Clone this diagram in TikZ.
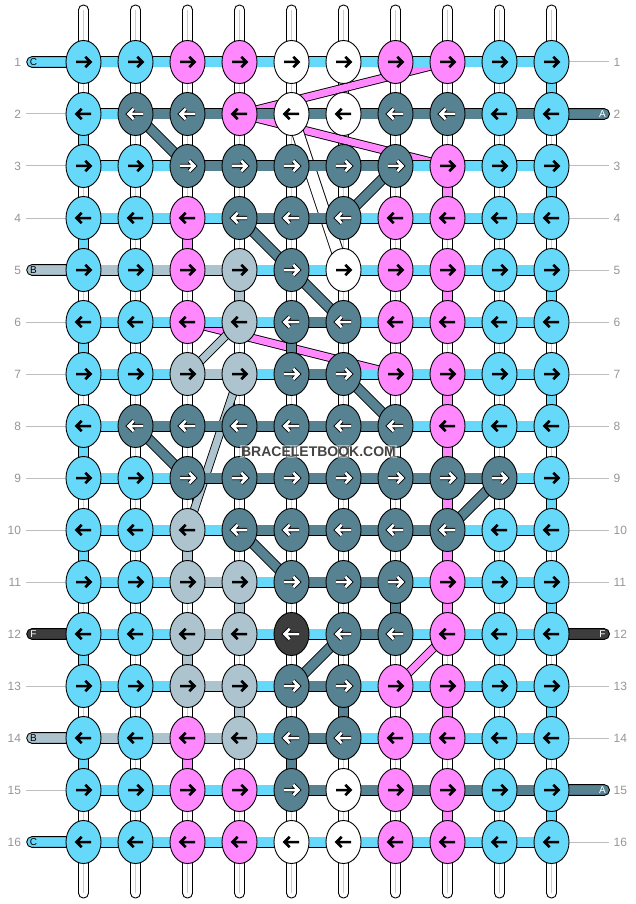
\documentclass[tikz,border=0pt]{standalone}
\usepackage{fontspec}
\setmainfont{Liberation Sans}
\usetikzlibrary{shapes.geometric}
\definecolor{kC}{RGB}{102,217,250}
\definecolor{kP}{RGB}{255,136,255}
\definecolor{kT}{RGB}{86,130,146}
\definecolor{kL}{RGB}{173,196,206}
\definecolor{kW}{RGB}{255,255,255}
\definecolor{kD}{RGB}{61,61,61}
\definecolor{lblgray}{RGB}{150,150,150}
\definecolor{linegray}{RGB}{190,190,190}
\definecolor{wmtext}{RGB}{68,68,68}
\tikzset{
  knot/.style={draw=black, line width=0.9pt, ellipse, minimum width=35pt, minimum height=43pt, inner sep=0pt},
  aoC/.style={draw=none}, aoP/.style={draw=none}, aoW/.style={draw=none}, aoL/.style={draw=none},
  aoT/.style={draw=black}, aoD/.style={draw=black},
  aiC/.style={draw=black}, aiP/.style={draw=black}, aiW/.style={draw=black}, aiL/.style={draw=black},
  aiT/.style={draw=white}, aiD/.style={draw=white},
  numlbl/.style={font=\fontsize{12}{14}\selectfont, text=lblgray, inner sep=0pt},
  leadlbl/.style={font=\fontsize{10}{12}\selectfont, inner sep=0pt},
  arr/.style={line cap=butt, line join=miter}
}
\begin{document}
\begin{tikzpicture}[x=1pt,y=-1pt]
\useasboundingbox (0,0) rectangle (636,904);
\fill[white] (0,0) rectangle (636,904);
% grid coordinates
\foreach \r in {1,...,16}{
  \foreach \c in {1,...,10}{
    \coordinate (k-\r-\c) at ({83.5+52*(\c-1)},{62+52*(\r-1)});
  }
}
% label lines
\foreach \r in {2,3,4,6,7,8,9,10,11,13,15}{
  \coordinate (ll\r) at (26,{62+52*(\r-1)});
  \draw[linegray, line width=1pt] (ll\r) -- (k-\r-1);
}
\foreach \r in {1,3,4,5,6,7,8,9,10,11,13,14,16}{
  \coordinate (rl\r) at (609,{62+52*(\r-1)});
  \draw[linegray, line width=1pt] (k-\r-10) -- (rl\r);
}
% vertical white strands
\foreach \c in {1,...,10}{
  \pgfmathsetmacro\xx{83.5+52*(\c-1)}
  \draw[fill=white, line width=0.9pt, rounded corners=4.8pt] ({\xx-5},5) rectangle ({\xx+5},898);
  \draw[gray!40, line width=1.8pt] (\xx,10) -- (\xx,893);
}
% diagonal strands
\foreach \a/\b/\col/\w in {2-2/3-3/kT/9, 3-7/4-6/kT/9, 4-4/5-5/kT/9, 5-5/6-6/kT/9, 7-6/8-7/kT/9,
  8-2/9-3/kT/9, 9-9/10-8/kT/9, 10-4/11-5/kT/9, 12-6/13-5/kT/9,
  2-4/1-8/kP/7, 2-4/3-8/kP/7, 6-3/7-7/kP/7, 12-8/13-7/kP/7,
  6-4/7-3/kL/7, 7-4/10-3/kL/7, 2-5/5-6/white/11}{
  \pgfmathsetmacro\wo{\w+1.8}
  \draw[line width=\wo pt] (k-\a) -- (k-\b);
  \draw[line width=\w pt, \col] (k-\a) -- (k-\b);
}
% coloured vertical segments
\foreach \r/\c/\col in {2/1/kC,4/1/kC,6/1/kC,8/1/kC,10/1/kC,12/1/kC,14/1/kC,
  1/10/kC,3/10/kC,5/10/kC,7/10/kC,9/10/kC,11/10/kC,13/10/kC,15/10/kC,
  4/3/kP,14/3/kP,10/3/kL,12/3/kL, 5/4/kL,11/4/kL,13/4/kL, 6/5/kT,14/5/kT, 13/6/kT, 11/7/kT,
  3/8/kP,5/8/kP,7/8/kP,8/8/kP,9/8/kP,10/8/kP,11/8/kP,13/8/kP,15/8/kP}{
  \pgfmathtruncatemacro\rn{\r+1}
  \draw[line width=10.6pt] (k-\r-\c) -- (k-\rn-\c);
  \draw[line width=8.8pt, \col] (k-\r-\c) -- (k-\rn-\c);
}
% horizontal segments
\foreach \r/\row in {1/{C,C,C,C,C,C,C,C,C}, 2/{C,T,T,T,T,T,T,T,T}, 3/{C,C,T,T,T,T,C,C,C},
  4/{C,C,C,T,T,C,C,C,C}, 5/{L,L,L,C,C,C,C,C,C}, 6/{C,C,C,C,T,C,C,C,C},
  7/{C,C,L,C,T,C,C,C,C}, 8/{C,T,T,T,T,T,C,C,C}, 9/{C,C,T,T,T,T,T,T,C},
  10/{C,C,C,T,T,T,T,C,C}, 11/{C,C,L,C,T,T,C,C,C}, 12/{C,C,L,C,C,T,C,C,C},
  13/{C,C,L,C,T,C,C,C,C}, 14/{L,L,L,C,T,C,C,C,C}, 15/{C,C,C,C,T,T,T,T,T},
  16/{C,C,C,C,C,C,C,C,C}}{
  \foreach \k [count=\c] in \row {
    \pgfmathtruncatemacro\cn{\c+1}
    \draw[line width=11pt] (k-\r-\c) -- (k-\r-\cn);
    \draw[line width=9.2pt, k\k] (k-\r-\c) -- (k-\r-\cn);
  }
}
% lead strands
\foreach \r/\col/\txt/\tc in {1/kC/C/black, 5/kL/B/black, 12/kD/F/white, 14/kL/B/black, 16/kC/C/black}{
  \pgfmathsetmacro\yy{62+52*(\r-1)}
  \draw[fill=\col, line width=0.9pt, rounded corners=5.3pt] (26.7,{\yy-5.4}) rectangle (80,{\yy+5.4});
  \node[leadlbl, text=\tc] (la\r) at (33.5,\yy) {\txt};
}
\foreach \r/\col/\txt/\tc in {2/kT/A/white, 12/kD/F/white, 15/kT/A/white}{
  \pgfmathsetmacro\yy{62+52*(\r-1)}
  \draw[fill=\col, line width=0.9pt, rounded corners=5.3pt] (555,{\yy-5.4}) rectangle (609.5,{\yy+5.4});
  \node[leadlbl, text=\tc] (ra\r) at (602.5,\yy) {\txt};
}
% knots
\foreach \r/\row in {1/{C,C,P,P,W,W,P,P,C,C}, 2/{C,T,T,P,W,W,T,T,C,C}, 3/{C,C,T,T,T,T,T,P,C,C},
  4/{C,C,P,T,T,T,P,P,C,C}, 5/{C,C,P,L,T,W,P,P,C,C}, 6/{C,C,P,L,T,T,P,P,C,C},
  7/{C,C,L,L,T,T,P,P,C,C}, 8/{C,T,T,T,T,T,T,P,C,C}, 9/{C,C,T,T,T,T,T,T,T,C},
  10/{C,C,L,T,T,T,T,T,C,C}, 11/{C,C,L,L,T,T,T,P,C,C}, 12/{C,C,L,L,D,T,T,P,C,C},
  13/{C,C,L,L,T,T,P,P,C,C}, 14/{C,C,P,L,T,T,P,P,C,C}, 15/{C,C,P,P,T,W,P,P,C,C},
  16/{C,C,P,P,W,W,P,P,C,C}}{
  \pgfmathtruncatemacro\sg{mod(\r,2)==1 ? 1 : -1}
  \pgfmathsetmacro\yy{62+52*(\r-1)}
  \foreach \k [count=\c] in \row {
    \pgfmathsetmacro\xx{83.5+52*(\c-1)}
    \node[knot, fill=k\k] (n-\r-\c) at (k-\r-\c) {};
    \draw[arr, ao\k, line width=4.4pt] ({\xx-7.5*\sg},\yy) -- ({\xx+6.5*\sg},\yy)
      ({\xx+1.8*\sg},{\yy-5.2}) -- ({\xx+7*\sg},\yy) -- ({\xx+1.8*\sg},{\yy+5.2});
    \draw[arr, ai\k, line width=2.5pt] ({\xx-7.5*\sg},\yy) -- ({\xx+6.5*\sg},\yy)
      ({\xx+1.8*\sg},{\yy-5.2}) -- ({\xx+7*\sg},\yy) -- ({\xx+1.8*\sg},{\yy+5.2});
  }
}
% row numbers
\foreach \r in {1,...,16}{
  \node[numlbl, anchor=east] (ln\r) at (21.2,{62+52*(\r-1)}) {\r};
  \node[numlbl, anchor=west] (rn\r) at (613.5,{62+52*(\r-1)}) {\r};
}
% watermark
\node[font=\bfseries\fontsize{14}{16}\selectfont, text=wmtext, fill=white, fill opacity=0.45,
  text opacity=1, inner sep=1.2pt] (wm) at (318.5,451.5) {BRACELETBOOK.COM};
\end{tikzpicture}
\end{document}
